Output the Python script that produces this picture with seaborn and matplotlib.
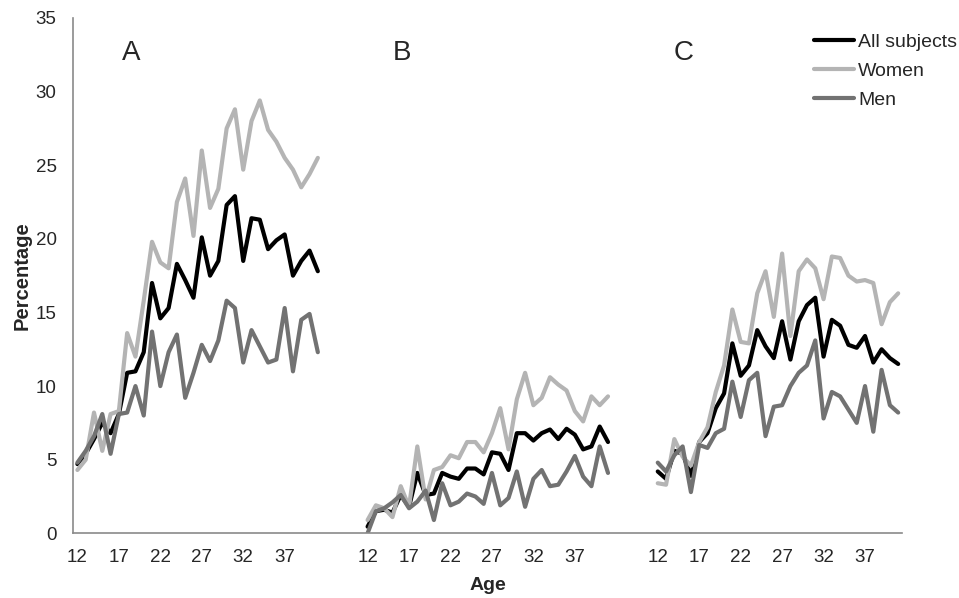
import numpy as np
import pandas as pd
import matplotlib
matplotlib.use('Agg')
import matplotlib.pyplot as plt
import seaborn as sns

# Ages shown in each panel (x categories)
ages = list(range(12, 42))
panels = ['A', 'B', 'C']
groups = ['All subjects', 'Women', 'Men']

# Panel A
a_all = [4.7, 5.4, 6.4, 7.5, 6.8, 8.1, 10.9, 11.0, 12.3, 17.0, 14.6, 15.3, 18.3, 17.2, 16.0,
         20.1, 17.5, 18.5, 22.3, 22.9, 18.5, 21.4, 21.3, 19.3, 19.9, 20.3, 17.5, 18.5, 19.2, 17.8]
a_women = [4.3, 5.0, 8.2, 5.6, 8.1, 8.3, 13.6, 12.0, 15.8, 19.8, 18.4, 18.0, 22.5, 24.1, 20.2,
           26.0, 22.1, 23.4, 27.5, 28.8, 24.7, 28.0, 29.4, 27.4, 26.6, 25.5, 24.7, 23.5, 24.4, 25.5]
a_men = [4.8, 5.6, 6.6, 8.1, 5.4, 8.1, 8.2, 10.0, 8.0, 13.7, 10.0, 12.3, 13.5, 9.2, 10.9,
         12.8, 11.7, 13.1, 15.8, 15.3, 11.6, 13.8, 12.7, 11.6, 11.8, 15.3, 11.0, 14.5, 14.9, 12.3]

# Panel B
b_all = [0.45, 1.5, 1.6, 1.4, 2.6, 1.8, 4.1, 2.6, 2.7, 4.1, 3.85, 3.7, 4.4, 4.4, 4.0,
         5.5, 5.4, 4.3, 6.8, 6.8, 6.3, 6.8, 7.05, 6.4, 7.1, 6.7, 5.7, 5.9, 7.25, 6.2]
b_women = [0.9, 1.9, 1.7, 1.1, 3.2, 1.8, 5.9, 2.3, 4.3, 4.5, 5.3, 5.1, 6.2, 6.2, 5.5,
           6.8, 8.5, 5.7, 9.1, 10.9, 8.7, 9.2, 10.6, 10.1, 9.7, 8.3, 7.6, 9.3, 8.7, 9.3]
b_men = [0.0, 1.5, 1.7, 2.1, 2.6, 1.7, 2.15, 2.9, 0.9, 3.4, 1.9, 2.15, 2.7, 2.5, 2.0,
         4.1, 1.9, 2.4, 4.2, 1.8, 3.7, 4.3, 3.2, 3.3, 4.2, 5.25, 3.85, 3.2, 5.9, 4.1]

# Panel C
c_all = [4.2, 3.7, 5.6, 5.4, 3.9, 6.2, 6.8, 8.5, 9.5, 12.9, 10.7, 11.4, 13.8, 12.7, 11.9,
         14.4, 11.8, 14.4, 15.5, 16.0, 12.0, 14.5, 14.1, 12.8, 12.6, 13.4, 11.6, 12.5, 11.9, 11.5]
c_women = [3.4, 3.3, 6.4, 5.2, 4.6, 6.2, 7.2, 9.6, 11.4, 15.2, 13.0, 12.9, 16.3, 17.8, 14.7,
           19.0, 13.4, 17.8, 18.6, 18.0, 15.9, 18.8, 18.7, 17.5, 17.1, 17.2, 17.0, 14.2, 15.7, 16.3]
c_men = [4.8, 4.2, 5.3, 5.9, 2.8, 6.0, 5.8, 6.8, 7.1, 10.3, 7.9, 10.4, 10.9, 6.6, 8.6,
         8.7, 10.0, 10.9, 11.4, 13.1, 7.8, 9.6, 9.3, 8.4, 7.5, 10.0, 6.9, 11.1, 8.7, 8.2]

series = {
    'A': [a_all, a_women, a_men],
    'B': [b_all, b_women, b_men],
    'C': [c_all, c_women, c_men],
}

# Build long-form table; panels sit side by side on one category axis with 5 empty slots between
gap = 5
rows = []
for p_i, p in enumerate(panels):
    offset = p_i * (len(ages) + gap)
    for g, vals in zip(groups, series[p]):
        for k, (age, v) in enumerate(zip(ages, vals)):
            rows.append({'panel': p, 'group': g, 'age': age, 'pos': offset + k, 'pct': v})
df = pd.DataFrame(rows)

sns.set_style('white')
plt.rcParams['font.family'] = ['Liberation Sans', 'DejaVu Sans']

fig, ax = plt.subplots(figsize=(9.59, 5.98), dpi=100)
fig.subplots_adjust(left=0.0764, right=0.9409, bottom=0.1082, top=0.9699)

palette = {'All subjects': '#000000', 'Women': '#b4b4b4', 'Men': '#727272'}
sns.lineplot(data=df, x='pos', y='pct', hue='group', units='panel', estimator=None,
             palette=palette, hue_order=groups, linewidth=3, ax=ax)

n_total = 3 * len(ages) + 2 * gap
ax.set_xlim(-0.5, n_total - 0.5)
ax.set_ylim(0, 35)

# x labels every 5 ages in each panel, tick marks between categories
label_pos, label_txt = [], []
for p_i in range(3):
    offset = p_i * (len(ages) + gap)
    for k in range(0, 30, 5):
        label_pos.append(offset + k)
        label_txt.append(str(ages[k]))
ax.set_xticks(label_pos)
ax.set_xticklabels(label_txt)
ax.set_xticks(np.arange(-0.5, n_total, 5), minor=True)
ax.tick_params(axis='x', which='major', length=0, pad=11, labelsize=13.5)
ax.tick_params(axis='x', which='minor', length=4, width=1.2, color='#8a8a8a', direction='out')
ax.set_yticks(range(0, 36, 5))
ax.tick_params(axis='y', length=4, width=1.2, color='#8a8a8a', direction='out', pad=8, labelsize=13.5)

sns.despine(ax=ax)
for s in ['left', 'bottom']:
    ax.spines[s].set_color('#8a8a8a')
    ax.spines[s].set_linewidth(1.2)

ax.set_xlabel('Age', fontsize=14, fontweight='bold', labelpad=8)
ax.set_ylabel('Percentage', fontsize=14.5, fontweight='bold', labelpad=3)

# Panel letters
ax.text(6.5, 32.6, 'A', fontsize=20, ha='center', va='center')
ax.text(39.1, 32.6, 'B', fontsize=20, ha='center', va='center')
ax.text(73.1, 32.6, 'C', fontsize=20, ha='center', va='center')

leg = ax.legend(loc='upper left', bbox_to_anchor=(0.893, 0.97), frameon=False, fontsize=14,
                handlelength=2.1, handletextpad=0.2, labelspacing=0.58, borderpad=0, borderaxespad=0)
for line in leg.get_lines():
    line.set_linewidth(3)

plt.savefig('out.png')
